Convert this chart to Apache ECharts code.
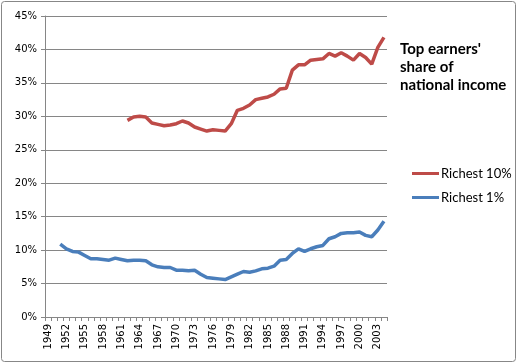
<!DOCTYPE html>
<html><head><meta charset="utf-8">
<script src="https://cdn.jsdelivr.net/npm/echarts@6/dist/echarts.min.js"></script>
<style>html,body{margin:0;padding:0;background:#fff}#c{width:518px;height:364px}</style>
</head><body><div id="c"></div>
<script>
const years = [];
for (let y = 1949; y <= 2004; y++) years.push(String(y));
const richest10 = [null,null,null,null,null,null,null,null,null,null,null,null,null,
  29.4,29.9,30.0,29.9,29.0,28.8,28.6,28.7,28.9,29.3,
  29.0,28.4,28.1,27.8,28.0,27.9,27.8,28.9,30.9,31.2,
  31.7,32.5,32.7,32.9,33.3,34.1,34.2,36.9,37.7,37.7,
  38.4,38.5,38.6,39.4,39.0,39.5,39.0,38.4,39.4,38.8,
  37.8,40.3,41.8];
const richest1 = [null,null,
  10.9,10.2,9.8,9.7,9.2,8.7,8.7,8.6,8.5,8.8,
  8.6,8.4,8.5,8.5,8.4,7.8,7.5,7.4,7.4,7.0,
  7.0,6.9,7.0,6.4,5.9,5.8,5.7,
  5.6,6.0,6.4,6.8,6.7,6.9,7.2,7.3,7.6,8.5,
  8.6,9.5,10.2,9.8,10.2,10.5,10.7,11.7,12.0,12.5,
  12.6,12.6,12.7,12.2,12.0,13.0,14.3];
const titleLines = ["Top earners'", "share of", "national income"];

const chart = echarts.init(document.getElementById('c'), null, {renderer: 'canvas'});
chart.setOption({
  animation: false,
  backgroundColor: '#fff',
  grid: {left: 45, right: 131, top: 16, bottom: 47, containLabel: false},
  xAxis: {
    type: 'category', data: years, boundaryGap: true,
    axisLine: {lineStyle: {color: '#868686', width: 1}},
    axisTick: {show: true, interval: 0, length: 4, lineStyle: {color: '#868686'}},
    axisLabel: {interval: 2, rotate: 90, margin: 7, color: '#000', fontFamily: 'DejaVu Sans', fontSize: 10},
    splitLine: {show: false}
  },
  yAxis: {
    type: 'value', min: 0, max: 45, interval: 5,
    axisLine: {show: true, lineStyle: {color: '#868686', width: 1}},
    axisTick: {show: true, length: 4, lineStyle: {color: '#868686'}},
    axisLabel: {formatter: '{value}%', margin: 8, color: '#000', fontFamily: 'DejaVu Sans', fontSize: 10},
    splitLine: {show: true, lineStyle: {color: '#868686', width: 1}}
  },
  legend: {
    orient: 'vertical', left: 407, top: 162, itemGap: 11,
    icon: 'rect', itemWidth: 27, itemHeight: 3,
    textStyle: {fontFamily: 'Lato', fontSize: 13, color: '#000', padding: [0,0,0,-3]},
    data: ['Richest 10%', 'Richest 1%']
  },
  graphic: [
    {type: 'rect', shape: {x: 1.5, y: 1.5, width: 514, height: 360, r: 3}, style: {fill: null, stroke: '#878787', lineWidth: 1}, silent: true},
    {type: 'text', left: 400, top: 40, style: {text: titleLines.join('\n'), font: 'bold 15px Lato', fill: '#000', lineHeight: 18}}
  ],
  series: [
    {name: 'Richest 10%', type: 'line', data: richest10, symbol: 'none', connectNulls: false,
     lineStyle: {color: '#BE4B48', width: 3.5}, itemStyle: {color: '#BE4B48'}},
    {name: 'Richest 1%', type: 'line', data: richest1, symbol: 'none', connectNulls: false,
     lineStyle: {color: '#4A7EBB', width: 3.5}, itemStyle: {color: '#4A7EBB'}}
  ]
});
</script></body></html>
